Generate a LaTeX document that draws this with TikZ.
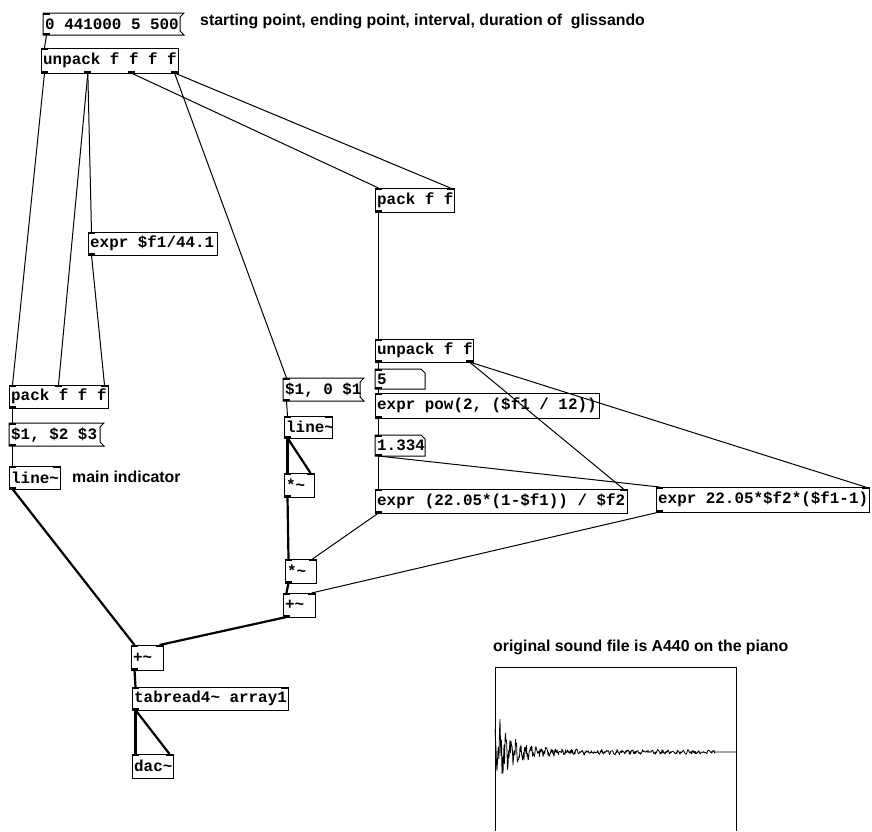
\documentclass[tikz,border=0pt]{standalone}
\usepackage{fontspec}
\setmainfont{Liberation Sans}
\newfontfamily\pdmono{Liberation Mono}
\usetikzlibrary{calc}

\tikzset{
  pdtext/.style={inner xsep=2pt, inner ysep=0pt, anchor=north west, align=left,
    font=\pdmono\bfseries\fontsize{15.9}{18}\selectfont, text=black},
  pdbox/.style={draw=black, line width=1pt},
  iomark/.style={fill=black},
  ctl/.style={line width=1pt, draw=black},
  sig/.style={line width=2.2pt, draw=black},
  comment/.style={anchor=base west, inner sep=0pt, text=black,
    font=\bfseries\fontsize{15.85}{18}\selectfont},
}

\newcommand\pdshapeobj[4]{\draw[pdbox] (#1,#2) rectangle (#3,#4);}
\newcommand\pdshapemsg[4]{\draw[pdbox] (#1,#2) -- (#3+4,#2) -- (#3,#2+4) -- (#3,#4-4) -- (#3+4,#4) -- (#1,#4) -- cycle;}
\newcommand\pdshapeatom[4]{\draw[pdbox] (#1,#2) -- (#3-4,#2) -- (#3,#2+4) -- (#3,#4) -- (#1,#4) -- cycle;}
\newcommand\pdspacing{\spaceskip=9.54pt plus 0pt minus 0pt\relax}

% name, kind, x1, y1, x2, y2, #inlets, #outlets, text
\newcommand\pdnode[9]{%
  \pgfmathsetmacro\pdw{#5-#3}%
  \pgfmathsetmacro\pdtw{#5-#3-4}%
  \pgfmathsetmacro\pdh{#6-#4}%
  \node[pdtext, text width=\pdtw pt, minimum height=\pdh pt] (#1) at (#3,#4) {\pdspacing\mbox{#9}};
  \csname pdshape#2\endcsname{#3}{#4}{#5}{#6}%
  \ifnum#7>0
    \foreach \i in {1,...,#7}{%
      \pgfmathsetmacro\px{#3+(\i-1)*(\pdw-7)/max(#7-1,1)}%
      \pgfmathtruncatemacro\k{\i-1}%
      \fill[iomark] (\px,#4) rectangle (\px+7,#4+2);
      \coordinate (#1-i\k) at (\px+3.5,#4);
    }%
  \fi
  \ifnum#8>0
    \foreach \i in {1,...,#8}{%
      \pgfmathsetmacro\px{#3+(\i-1)*(\pdw-7)/max(#8-1,1)}%
      \pgfmathtruncatemacro\k{\i-1}%
      \fill[iomark] (\px,#6-2) rectangle (\px+7,#6);
      \coordinate (#1-o\k) at (\px+3.5,#6);
    }%
  \fi
}

\begin{document}
\begin{tikzpicture}[x=1pt,y=-1pt]
\useasboundingbox (0,0) rectangle (872,831);
\fill[white] (0,0) rectangle (872,831);

% boxes
\pdnode{msg0}{msg}{43}{13}{180}{35}{1}{1}{0 441000 5 500}
\pdnode{up4}{obj}{41}{48}{178}{73}{1}{4}{unpack f f f f}
\pdnode{expr1}{obj}{88}{232}{217}{255}{1}{1}{expr \$f1/44.1}
\pdnode{pk2}{obj}{375}{188}{454}{212}{2}{1}{pack f f}
\pdnode{up2}{obj}{375}{339}{473}{362}{1}{2}{unpack f f}
\pdnode{nb5}{atom}{375}{369}{425}{389}{1}{1}{5}
\pdnode{pow}{obj}{375}{393}{599}{418}{1}{1}{expr pow(2, (\$f1 / 12))}
\pdnode{nbv}{atom}{375}{435}{425}{456}{1}{1}{1.334}
\pdnode{ex2}{obj}{375}{489}{627}{513}{2}{1}{expr (22.05*(1-\$f1)) / \$f2}
\pdnode{ex3}{obj}{656}{487}{869}{512}{2}{1}{expr 22.05*\$f2*(\$f1-1)}
\pdnode{pk3}{obj}{9}{385}{108}{408}{3}{1}{pack f f f}
\pdnode{msg2}{msg}{9}{423}{100}{446}{1}{1}{\$1, \$2 \$3}
\pdnode{line1}{obj}{9}{466}{60}{489}{2}{1}{line\textasciitilde}
\pdnode{msg3}{msg}{283}{378}{360}{401}{1}{1}{\$1, 0 \$1}
\pdnode{line2}{obj}{284}{416}{332}{438}{2}{1}{line\textasciitilde}
\pdnode{mul1}{obj}{284}{473}{314}{497}{2}{1}{*\textasciitilde}
\pdnode{mul2}{obj}{285}{559}{316}{583}{2}{1}{*\textasciitilde}
\pdnode{add1}{obj}{283}{593}{315}{617}{2}{1}{+\textasciitilde}
\pdnode{add2}{obj}{131}{645}{163}{670}{2}{1}{+\textasciitilde}
\pdnode{tab}{obj}{132}{687}{288}{710}{2}{1}{tabread4\textasciitilde{} array1}
\pdnode{dac}{obj}{132}{754}{173}{778}{2}{0}{dac\textasciitilde}

% comments
\node[comment] (cm1) at (200,25) {starting point, ending point, interval, duration of\ \ glissando};
\node[comment] (cm2) at (72,482) {main indicator};
\node[comment] (cm3) at (493,651) {original sound file is A440 on the piano};

% control connections
\draw[ctl] (msg0-o0) -- (up4-i0);
\draw[ctl] (up4-o0) -- (pk3-i0);
\draw[ctl] (up4-o1) -- (pk3-i1);
\draw[ctl] (up4-o1) -- (expr1-i0);
\draw[ctl] (expr1-o0) -- (pk3-i2);
\draw[ctl] (up4-o2) -- (pk2-i0);
\draw[ctl] (up4-o3) -- (pk2-i1);
\draw[ctl] (up4-o3) -- (msg3-i0);
\draw[ctl] (pk2-o0) -- (up2-i0);
\draw[ctl] (up2-o0) -- (nb5-i0);
\draw[ctl] (nb5-o0) -- (pow-i0);
\draw[ctl] (pow-o0) -- (nbv-i0);
\draw[ctl] (nbv-o0) -- (ex2-i0);
\draw[ctl] (nbv-o0) -- (ex3-i0);
\draw[ctl] (up2-o1) -- (ex2-i1);
\draw[ctl] (up2-o1) -- (ex3-i1);
\draw[ctl] (ex2-o0) -- (mul2-i1);
\draw[ctl] (ex3-o0) -- (add1-i1);
\draw[ctl] (pk3-o0) -- (msg2-i0);
\draw[ctl] (msg2-o0) -- (line1-i0);
\draw[ctl] (msg3-o0) -- (line2-i0);

% signal connections
\draw[sig] (line2-o0) -- (mul1-i0);
\draw[sig] (line2-o0) -- (mul1-i1);
\draw[sig] (mul1-o0) -- (mul2-i0);
\draw[sig] (mul2-o0) -- (add1-i0);
\draw[sig] (add1-o0) -- (add2-i1);
\draw[sig] (line1-o0) -- (add2-i0);
\draw[sig] (add2-o0) -- (tab-i0);
\draw[sig] (tab-o0) -- (dac-i0);
\draw[sig] (tab-o0) -- (dac-i1);

% array graph
\draw[line width=1pt] (495,831) -- (495,667) -- (736,667) -- (736,831);
\pgfmathsetseed{11}
\draw[line width=0.8pt, line join=round]
  plot[domain=0:220, samples=441]
  ({495+\x},{752-(45*exp(-\x/9)+14*exp(-\x/30)+2.5)*(0.6*rand+0.4*sin(\x*71+60))})
  -- (736,752);
\end{tikzpicture}
\end{document}
